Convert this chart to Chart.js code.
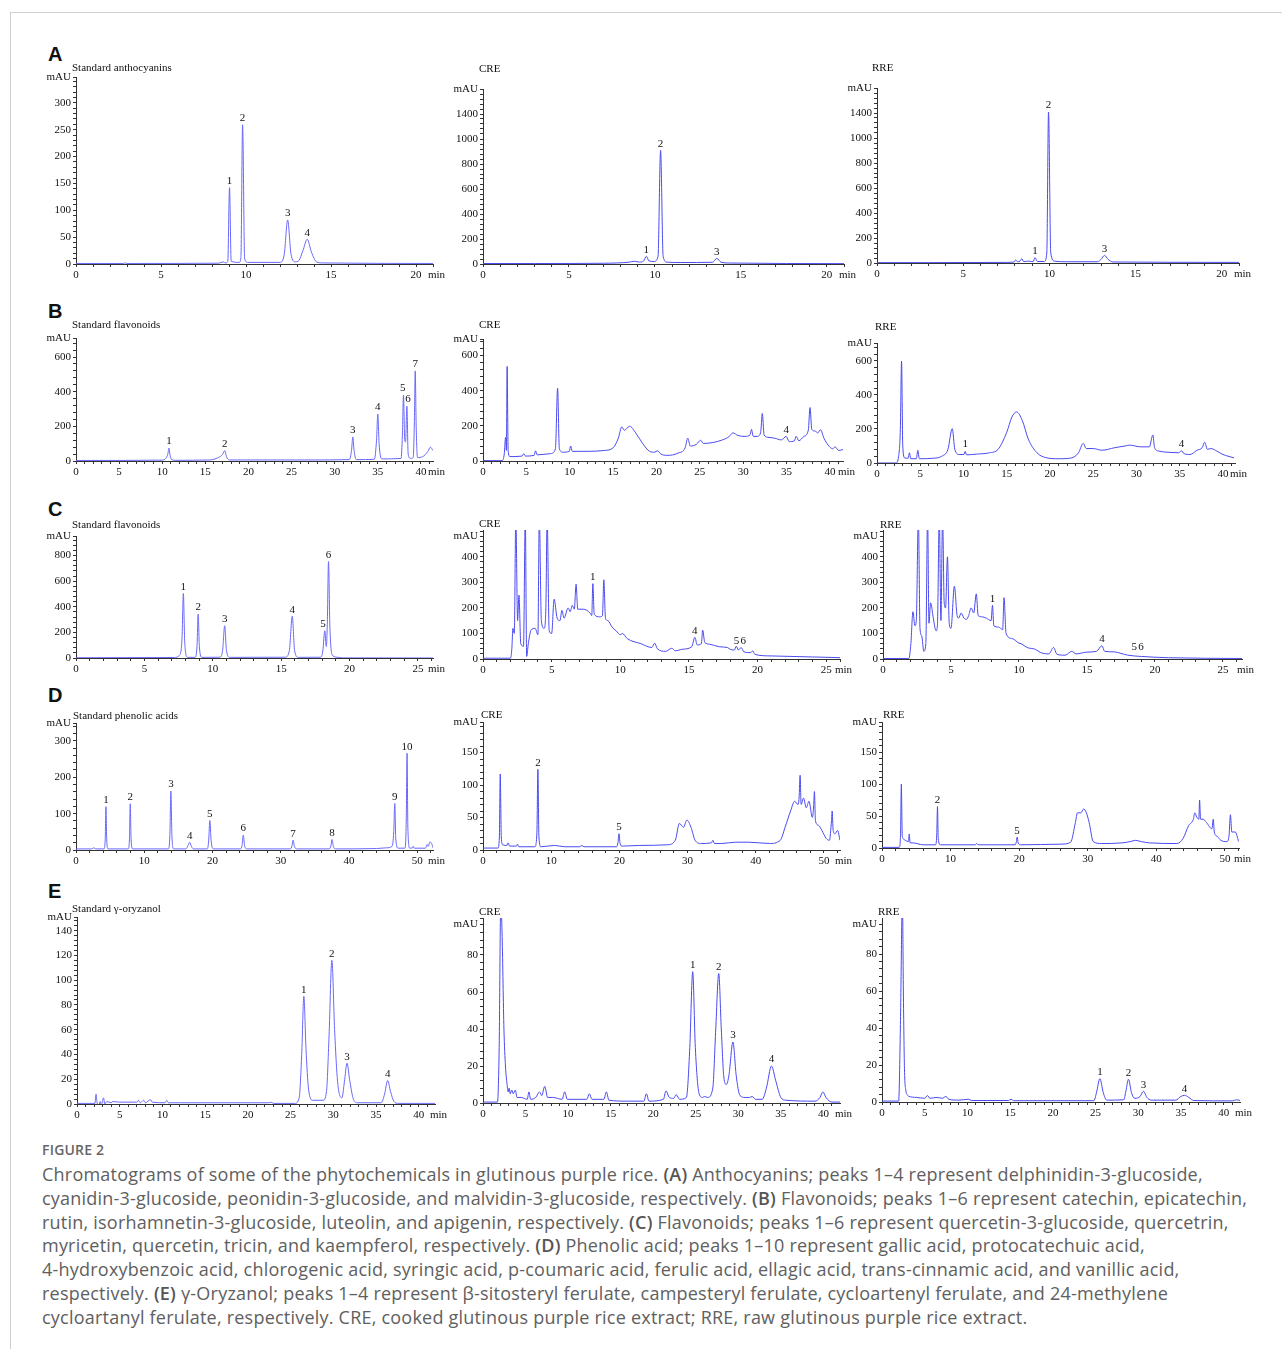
<!DOCTYPE html>
<html>
<head>
<meta charset="utf-8">
<title>Figure 2</title>
<script src="https://cdn.jsdelivr.net/npm/chart.js@4.4.1/dist/chart.umd.min.js"></script>
<style>
    body { margin: 0; background: #fff; }
    #page { position: relative; width: 1282px; height: 1349px; overflow: hidden; }
    .frame { position: absolute; left: 10px; top: 12px; width: 1280px; height: 1345px; border-left: 1px solid #cfcfcf; border-top: 1px solid #cfcfcf; }
    .panel { position: absolute; }
    .ttl { position: absolute; font: 11px/12px "Liberation Serif", serif; color: #111; white-space: nowrap; }
    .row-letter { position: absolute; left: 48px; font: bold 20px/20px "Liberation Sans", Arial, sans-serif; color: #111; }
    .fig-label { position: absolute; left: 42px; top: 1142px; font: 600 14px/16px "Open Sans", sans-serif; color: #666; letter-spacing: .2px; }
    .caption { position: absolute; left: 42px; top: 1163px; font: 18px/23.8px "Open Sans", sans-serif; letter-spacing: .22px; color: #606060; white-space: nowrap; }
    .caption b { font-weight: 600; color: #555; }
</style>
</head>
<body>
<div id="page">
    <div class="frame"></div>
    <div class="row-letter" style="top:44px">A</div>
    <div class="row-letter" style="top:301px">B</div>
    <div class="row-letter" style="top:499px">C</div>
    <div class="row-letter" style="top:685px">D</div>
    <div class="row-letter" style="top:881px">E</div>
    <div class="fig-label">FIGURE 2</div>
    <div class="caption">Chromatograms of some of the phytochemicals in glutinous purple rice. <b>(A)</b> Anthocyanins; peaks 1–4 represent delphinidin-3-glucoside,<br>cyanidin-3-glucoside, peonidin-3-glucoside, and malvidin-3-glucoside, respectively. <b>(B)</b> Flavonoids; peaks 1–6 represent catechin, epicatechin,<br>rutin, isorhamnetin-3-glucoside, luteolin, and apigenin, respectively. <b>(C)</b> Flavonoids; peaks 1–6 represent quercetin-3-glucoside, quercetrin,<br>myricetin, quercetin, tricin, and kaempferol, respectively. <b>(D)</b> Phenolic acid; peaks 1–10 represent gallic acid, protocatechuic acid,<br>4-hydroxybenzoic acid, chlorogenic acid, syringic acid, p-coumaric acid, ferulic acid, ellagic acid, trans-cinnamic acid, and vanillic acid,<br>respectively. <b>(E)</b> γ-Oryzanol; peaks 1–4 represent β-sitosteryl ferulate, campesteryl ferulate, cycloartenyl ferulate, and 24-methylene<br>cycloartanyl ferulate, respectively. CRE, cooked glutinous purple rice extract; RRE, raw glutinous purple rice extract.</div>
</div>
<script>
// retention time (min) / absorbance (mAU)
var aStdTrace = [[0,1],[2.8,1],[2.9,2],[3.0,1],[8.4,1.5],[8.65,4],[8.8,2],[8.93,5],[9.03,142],[9.13,5],[9.6,3],[9.7,12],[9.8,259],[9.92,10],[10.1,3],[12.0,3],[12.25,18],[12.45,82],[12.65,18],[12.9,4],[13.1,6],[13.35,25],[13.6,46],[13.85,22],[14.15,4],[14.5,2],[21,1]];
var aCreTrace = [[0,4],[3,4],[7,6],[8.5,15],[8.8,22],[9.1,15],[9.35,25],[9.5,62],[9.65,25],[9.95,20],[10.18,60],[10.33,910],[10.48,60],[10.7,15],[11.5,12],[13.35,14],[13.6,45],[13.85,14],[14.3,8],[21,3]];
var aRreTrace = [[0,3],[3,3],[7.5,5],[7.95,8],[8.05,25],[8.15,10],[8.3,15],[8.4,35],[8.5,12],[8.85,15],[9.05,10],[9.17,43],[9.3,12],[9.7,12],[9.85,80],[9.95,1208],[10.08,80],[10.3,15],[11,10],[12.8,10],[13.0,30],[13.2,61],[13.4,30],[13.7,8],[21,5]];

var bStdTrace = [[0,3],[10,5],[10.4,15],[10.65,40],[10.78,75],[10.9,35],[11.1,8],[11.5,4],[15.5,6],[16.5,20],[17.0,38],[17.25,60],[17.45,25],[17.8,6],[27,6],[31.7,8],[31.95,60],[32.1,139],[32.25,60],[32.5,8],[34.6,10],[34.85,120],[35.0,271],[35.15,100],[35.45,12],[37.7,15],[37.85,150],[37.98,381],[38.12,120],[38.22,110],[38.37,317],[38.52,40],[38.8,15],[39.1,20],[39.25,250],[39.34,520],[39.45,200],[39.6,20],[40.2,25],[40.8,55],[41.1,80],[41.4,60]];
var bCreTrace = [[0,2],[2.2,2],[2.45,40],[2.6,134],[2.7,60],[2.78,538],[2.9,60],[3.1,25],[4.5,28],[4.7,42],[4.9,28],[5.9,32],[6.05,58],[6.25,35],[7.8,42],[8.35,70],[8.6,414],[8.8,70],[9.2,50],[9.95,55],[10.1,85],[10.3,55],[12,55],[14,60],[15,75],[15.6,130],[16.0,194],[16.3,175],[16.9,198],[17.6,160],[18.4,100],[19.2,55],[19.8,50],[20.1,58],[20.5,40],[21.2,32],[22.5,45],[23.3,75],[23.6,130],[23.9,85],[24.6,95],[25.1,118],[25.4,100],[26.5,105],[27.6,120],[28.4,140],[28.8,160],[29.4,145],[30.2,140],[30.8,150],[30.95,180],[31.15,140],[31.6,140],[32.0,160],[32.2,270],[32.4,150],[32.8,135],[33.6,130],[34.4,120],[34.95,140],[35.3,110],[35.9,115],[36.1,140],[36.4,115],[37.0,140],[37.5,175],[37.7,304],[37.9,180],[38.3,170],[38.6,160],[38.9,178],[39.3,130],[39.8,90],[40.3,70],[40.6,80],[41.0,60],[41.5,65]];
var bRreTrace = [[0,0],[2.2,0],[2.5,40],[2.7,200],[2.84,598],[2.98,100],[3.2,30],[3.6,28],[3.75,60],[3.9,25],[4.55,25],[4.72,75],[4.9,25],[6.5,28],[7.5,40],[8.2,80],[8.7,202],[9.0,80],[9.5,50],[10.05,50],[10.2,68],[10.35,48],[11.5,52],[13,60],[14,80],[15,180],[15.6,270],[16.15,300],[16.8,250],[17.5,140],[18.5,60],[19.5,32],[21,25],[22.5,30],[23.3,60],[23.85,115],[24.2,85],[25,85],[26,75],[27.5,90],[28.7,100],[29.2,105],[30.5,95],[31.5,95],[31.9,165],[32.1,90],[32.6,70],[34,62],[34.9,60],[35.2,72],[35.5,55],[36.2,50],[37,75],[37.6,90],[37.9,122],[38.2,80],[38.6,85],[39.3,70],[40,50],[40.6,40],[41.3,30]];

var cStdTrace = [[0,2],[7.2,4],[7.55,20],[7.75,150],[7.85,504],[7.95,120],[8.15,5],[8.7,5],[8.85,100],[8.93,343],[9.02,90],[9.2,5],[10.5,6],[10.72,60],[10.87,252],[11.0,60],[11.25,5],[15.3,6],[15.6,60],[15.81,327],[15.98,60],[16.25,5],[17.9,6],[18.05,60],[18.19,213],[18.3,90],[18.38,300],[18.46,753],[18.56,250],[18.75,20],[19.2,5],[19.5,1],[26.1,0]];
var cCreTrace = [[0,3],[2.0,3],[2.1,40],[2.18,120],[2.28,100],[2.39,560],[2.52,150],[2.62,250],[2.75,60],[2.95,50],[3.08,560],[3.18,10],[3.3,60],[3.5,113],[3.8,120],[4.0,95],[4.1,560],[4.25,150],[4.45,120],[4.58,200],[4.67,560],[4.82,110],[5.0,100],[5.18,234],[5.4,160],[5.6,150],[5.75,190],[5.9,160],[6.2,200],[6.35,185],[6.5,210],[6.65,195],[6.78,293],[6.9,195],[7.3,195],[7.8,180],[7.92,170],[8.0,295],[8.1,175],[8.5,165],[8.7,170],[8.8,310],[8.92,160],[9.1,150],[9.4,125],[9.7,110],[10.0,95],[10.15,100],[10.5,80],[11.5,60],[12.3,45],[12.5,62],[12.7,40],[13.3,30],[13.75,42],[14.0,32],[14.5,38],[15.2,48],[15.43,85],[15.6,55],[15.9,60],[16.0,113],[16.15,65],[16.5,58],[17.2,48],[17.8,45],[18.0,38],[18.3,35],[18.45,50],[18.6,35],[18.8,45],[19.0,28],[19.5,25],[19.65,32],[19.8,18],[21,12],[22.5,10],[24,8],[25.5,6],[26,5]];
var cRreTrace = [[0,2],[1.9,2],[2.05,60],[2.2,185],[2.35,130],[2.45,150],[2.6,560],[2.72,120],[2.85,90],[3.0,30],[3.15,60],[3.28,560],[3.38,140],[3.5,220],[3.7,160],[3.9,110],[4.0,130],[4.14,560],[4.26,150],[4.38,560],[4.5,220],[4.6,200],[4.74,400],[4.87,140],[5.0,120],[5.25,285],[5.45,170],[5.56,160],[5.75,180],[5.95,160],[6.13,155],[6.3,170],[6.48,200],[6.67,180],[6.86,255],[7.0,170],[7.3,165],[7.6,160],[7.95,150],[8.05,210],[8.15,130],[8.5,125],[8.8,115],[8.9,240],[9.05,100],[9.5,80],[10.0,62],[10.15,60],[10.6,45],[11.2,38],[11.6,25],[12.2,20],[12.54,45],[12.8,18],[13.4,15],[13.88,30],[14.2,20],[15.0,27],[15.7,30],[16.1,52],[16.3,30],[17.0,28],[17.5,22],[18.0,15],[19.0,10],[21,5],[26.4,2]];

var dStdTrace = [[0,3],[2.3,3],[2.6,6],[2.9,3],[4.1,3],[4.28,30],[4.39,119],[4.5,30],[4.7,3],[7.65,3],[7.83,30],[7.95,127],[8.07,30],[8.3,3],[13.55,3],[13.75,40],[13.9,162],[14.05,40],[14.3,3],[16.1,3],[16.4,12],[16.65,21],[16.9,10],[17.2,3],[19.25,3],[19.45,30],[19.6,81],[19.8,25],[20.1,3],[24.1,3],[24.35,15],[24.5,41],[24.7,12],[25.0,3],[31.4,3],[31.65,12],[31.8,27],[32.0,10],[32.3,3],[37.1,3],[37.35,12],[37.5,29],[37.7,10],[38.0,3],[44,4],[45.5,6],[46.3,10],[46.55,50],[46.7,128],[46.85,30],[47.2,5],[48.2,5],[48.38,80],[48.5,266],[48.62,60],[48.9,5],[49.3,6],[49.4,10],[49.55,5],[51.2,5],[51.45,15],[51.6,10],[51.85,22],[52.1,18],[52.3,6]];
var dCreTrace = [[0,3],[2.2,3],[2.4,20],[2.53,117],[2.68,20],[2.9,8],[3.5,7],[3.68,11],[3.9,6],[4.9,6],[5.06,9],[5.25,5],[7.6,5],[7.9,25],[8.05,124],[8.2,20],[8.5,5],[10.5,7],[12,5],[14.2,5],[14.5,7],[14.8,5],[19.6,5],[19.8,12],[19.94,25],[20.1,10],[20.4,6],[23,7],[27,8],[28.2,15],[28.8,41],[29.4,35],[29.9,46],[30.5,35],[31.1,15],[32,10],[33.5,11],[33.7,15],[33.95,10],[35,10],[37,12],[39,12],[42,10],[43.6,15],[44.3,35],[45.1,60],[45.7,75],[46.2,70],[46.35,80],[46.5,115],[46.65,70],[47.0,80],[47.4,65],[47.8,75],[48.3,50],[48.5,70],[48.6,90],[48.75,45],[49.2,38],[49.7,30],[50.3,18],[50.8,15],[51.1,45],[51.2,60],[51.35,30],[51.6,25],[52.0,30],[52.35,15]];
var dRreTrace = [[0,1],[2.5,1],[2.7,20],[2.82,100],[2.95,20],[3.05,15],[3.4,12],[3.85,10],[3.97,22],[4.1,8],[4.5,8],[6,5],[7.8,5],[7.98,20],[8.09,65],[8.2,15],[8.5,5],[13.6,5],[13.8,7],[14.0,5],[19.4,5],[19.6,10],[19.7,17],[19.85,8],[20.2,5],[26,6],[27.5,9],[28.2,40],[28.5,55],[29.0,55],[29.4,61],[29.8,55],[30.2,40],[30.8,10],[32,7],[35,8],[36.2,10],[37.0,12],[37.8,10],[39,8],[43,7],[43.9,15],[44.7,35],[45.4,45],[45.6,55],[45.9,48],[46.2,45],[46.3,75],[46.45,45],[46.8,45],[47.3,40],[48.1,30],[48.3,45],[48.45,25],[48.9,18],[49.4,12],[50.3,10],[50.6,20],[50.8,52],[51.0,25],[51.5,25],[52,10]];

var eStdTrace = [[0,0.5],[2.1,0.5],[2.23,8],[2.35,1],[2.54,-2],[2.7,2],[2.85,-1],[3.0,3],[3.1,5],[3.25,0],[3.5,2],[4.0,1],[4.2,2],[5,1.5],[7.0,1.5],[7.2,3],[7.4,1],[7.8,3],[8.0,1],[8.6,3.5],[8.8,1.5],[10.3,1],[10.5,3],[10.7,1],[12,1],[22.5,1],[22.7,1.5],[23,0.5],[25.5,0.5],[26.0,5],[26.3,40],[26.55,87],[26.8,45],[27.1,12],[27.6,3],[28.8,3],[29.2,10],[29.5,55],[29.83,116],[30.15,60],[30.5,18],[31.0,5],[31.3,18],[31.6,33],[31.9,20],[32.3,5],[32.8,1],[35.6,1],[36.0,8],[36.36,19],[36.7,10],[37.1,2],[37.6,0.5],[41.9,0.5]];
var eCreTrace = [[0,0.5],[1.7,0.5],[1.9,30],[2.09,110],[2.25,90],[2.46,40],[2.64,20],[2.83,10],[2.95,6],[3.07,8],[3.2,5],[3.38,7],[3.56,5],[3.8,7],[4.0,3],[4.5,3],[5.2,2],[5.4,6],[5.6,2],[6.2,3],[6.64,6],[6.9,4],[7.25,9],[7.6,3],[8.2,3],[9.3,2],[9.6,6],[9.9,2],[12.2,2],[12.5,5],[12.8,2],[14.2,2],[14.5,6],[14.8,1.5],[17,1],[18.9,1],[19.2,5],[19.5,1],[21.2,2],[21.5,6.5],[21.9,3],[22.4,2.5],[22.7,4.5],[23.1,2],[23.9,3],[24.3,30],[24.64,71],[24.95,30],[25.4,5],[25.8,3],[26.0,3.5],[26.4,3],[27.0,8],[27.35,40],[27.7,70],[28.0,40],[28.3,14],[28.6,10],[28.9,15],[29.37,33],[29.75,15],[30.2,4],[30.8,3],[31.3,3],[31.64,3.5],[32.0,2],[32.8,2],[33.3,8],[33.9,20],[34.4,12],[35.0,3],[35.6,1.5],[39.0,1],[39.6,3],[39.94,6],[40.3,3],[41,0.5],[41.95,0.5]];
var eRreTrace = [[0,0.5],[1.95,0.5],[2.15,40],[2.39,110],[2.5,60],[2.63,18],[2.8,6],[2.94,4],[3.18,3],[4.0,2.5],[5.0,2],[5.33,3.5],[5.6,2],[6.43,2.5],[7.04,2],[7.5,3],[7.8,1.5],[9,1],[10.1,1.5],[10.5,0.8],[14.8,0.8],[15.1,1.5],[15.4,0.7],[24.8,0.7],[25.1,5],[25.5,12.6],[25.9,5],[26.3,1],[28.3,1.2],[28.55,6],[28.85,12.3],[29.2,5],[29.6,2],[30.2,3],[30.6,5.8],[31.0,2.5],[31.5,1],[34.4,1],[34.9,2.8],[35.4,3.6],[35.9,2.5],[36.5,0.8],[41,0.6],[41.5,1.2],[41.9,0.8]];

// peak numbers: [label, time, mAU at apex]
var aStdPeaks = [['1',9.03,142],['2',9.8,259],['3',12.45,82],['4',13.6,46]];
var aCrePeaks = [['1',9.5,62],['2',10.33,910],['3',13.6,45]];
var aRrePeaks = [['1',9.17,43],['2',9.95,1208],['3',13.2,61]];
var bStdPeaks = [['1',10.78,75],['2',17.25,60],['3',32.1,139],['4',35.0,271],['5',37.9,381],['6',38.5,317],['7',39.34,520]];
var bCrePeaks = [['4',34.95,140]];
var bRrePeaks = [['1',10.2,70],['4',35.2,72]];
var cStdPeaks = [['1',7.85,504],['2',8.93,343],['3',10.87,252],['4',15.81,327],['5',18.05,213],['6',18.46,753]];
var cCrePeaks = [['1',8.0,295],['4',15.43,85],['5',18.47,45],['6',18.96,45]];
var cRrePeaks = [['1',8.05,210],['4',16.1,52],['5',18.48,20],['6',18.98,20]];
var dStdPeaks = [['1',4.39,119],['2',7.95,127],['3',13.9,162],['4',16.65,21],['5',19.6,81],['6',24.5,41],['7',31.8,27],['8',37.5,29],['9',46.7,128],['10',48.5,266]];
var dCrePeaks = [['2',8.05,124],['5',19.94,25]];
var dRrePeaks = [['2',8.09,65],['5',19.7,17]];
var eStdPeaks = [['1',26.55,87],['2',29.83,116],['3',31.6,33],['4',36.36,19]];
var eCrePeaks = [['1',24.64,71],['2',27.7,70],['3',29.37,33],['4',33.9,20]];
var eRrePeaks = [['1',25.5,12.6],['2',28.85,12.3],['3',30.6,5.8],['4',35.4,3.6]];

// axis tick labels
var xLabelsA = ['0', '5', '10', '15', '20'];
var xLabelsB = ['0', '5', '10', '15', '20', '25', '30', '35', '40'];
var xLabelsC = ['0', '5', '10', '15', '20', '25'];
var xLabelsD = ['0', '10', '20', '30', '40', '50'];
var xLabelsE = ['0', '5', '10', '15', '20', '25', '30', '35', '40'];
var yLabelsAStd = ['0', '50', '100', '150', '200', '250', '300'];
var yLabelsAExt = ['0', '200', '400', '600', '800', '1000', '1400'];
var yLabelsB = ['0', '200', '400', '600'];
var yLabelsCStd = ['0', '200', '400', '600', '800'];
var yLabelsCExt = ['0', '100', '200', '300', '400'];
var yLabelsDStd = ['0', '100', '200', '300'];
var yLabelsDExt = ['0', '50', '100', '150'];
var yLabelsEStd = ['0', '20', '40', '60', '80', '100', '120', '140'];
var yLabelsEExt = ['0', '20', '40', '60', '80'];

(function () {
    var LINE_STD = 'rgb(104,104,250)', LINE_EXT = 'rgb(74,74,240)';
    var PAD_L = 40, PAD_T = 12, PAD_R = 22, PAD_B = 22;
    var page = document.getElementById('page');

    // box = [left, right, top, bottom] of the plot frame in page pixels
    var panels = [
        {title: 'Standard anthocyanins', tx: 72, ty: 67, trace: aStdTrace, peaks: aStdPeaks, color: LINE_STD, box: [76, 433, 77, 264],
            xMax: 21, xStep: 5, xMinor: 1, xLabels: xLabelsA, yMax: 348, mau: 348, yStep: 50, yMinor: 10, yLabels: yLabelsAStd},
        {title: 'CRE', tx: 479, ty: 68, trace: aCreTrace, peaks: aCrePeaks, color: LINE_EXT, box: [483, 844, 89, 264],
            xMax: 21, xStep: 5, xMinor: 1, xLabels: xLabelsA, yMax: 1400, mau: 1400, yStep: 200, yMinor: 40, yLabels: yLabelsAExt},
        {title: 'RRE', tx: 872, ty: 67, trace: aRreTrace, peaks: aRrePeaks, color: LINE_EXT, box: [877, 1239, 88, 263],
            xMax: 21, xStep: 5, xMinor: 1, xLabels: xLabelsA, yMax: 1400, mau: 1400, yStep: 200, yMinor: 40, yLabels: yLabelsAExt},

        {title: 'Standard flavonoids', tx: 72, ty: 324, trace: bStdTrace, peaks: bStdPeaks, color: LINE_STD, box: [76, 433, 338, 461],
            xMax: 41.4, xStep: 5, xMinor: 1, xLabels: xLabelsB, yMax: 710, mau: 710, yStep: 200, yMinor: 40, yLabels: yLabelsB},
        {title: 'CRE', tx: 479, ty: 324, trace: bCreTrace, peaks: bCrePeaks, color: LINE_EXT, box: [483, 843, 339, 461],
            xMax: 41.5, xStep: 5, xMinor: 1, xLabels: xLabelsB, yMax: 694, mau: 694, yStep: 200, yMinor: 40, yLabels: yLabelsB},
        {title: 'RRE', tx: 875, ty: 326, trace: bRreTrace, peaks: bRrePeaks, color: LINE_EXT, box: [877, 1235, 343, 463],
            xMax: 41.4, xStep: 5, xMinor: 1, xLabels: xLabelsB, yMax: 705, mau: 705, yStep: 200, yMinor: 40, yLabels: yLabelsB},

        {title: 'Standard flavonoids', tx: 72, ty: 524, trace: cStdTrace, peaks: cStdPeaks, color: LINE_STD, box: [76, 433, 536, 658],
            xMax: 26.1, xStep: 5, xMinor: 1, xLabels: xLabelsC, yMax: 953, mau: 953, yStep: 200, yMinor: 40, yLabels: yLabelsCStd},
        {title: 'CRE', tx: 479, ty: 523, trace: cCreTrace, peaks: cCrePeaks, color: LINE_EXT, box: [483, 840, 530, 659],
            xMax: 26, xStep: 5, xMinor: 1, xLabels: xLabelsC, yMax: 505, mau: 480, yStep: 100, yMinor: 20, yLabels: yLabelsCExt},
        {title: 'RRE', tx: 880, ty: 524, trace: cRreTrace, peaks: cRrePeaks, color: LINE_EXT, box: [883, 1242, 530, 659],
            xMax: 26.4, xStep: 5, xMinor: 1, xLabels: xLabelsC, yMax: 505, mau: 480, yStep: 100, yMinor: 20, yLabels: yLabelsCExt},

        {title: 'Standard phenolic acids', tx: 73, ty: 715, trace: dStdTrace, peaks: dStdPeaks, color: LINE_STD, box: [76, 433, 723, 850],
            xMax: 52.3, xStep: 10, xMinor: 2, xLabels: xLabelsD, yMax: 349, mau: 349, yStep: 100, yMinor: 20, yLabels: yLabelsDStd},
        {title: 'CRE', tx: 481, ty: 714, trace: dCreTrace, peaks: dCrePeaks, color: LINE_EXT, box: [483, 840, 722, 850],
            xMax: 52.35, xStep: 10, xMinor: 2, xLabels: xLabelsD, yMax: 197, mau: 197, yStep: 50, yMinor: 10, yLabels: yLabelsDExt},
        {title: 'RRE', tx: 883, ty: 714, trace: dRreTrace, peaks: dRrePeaks, color: LINE_EXT, box: [882, 1239, 722, 848],
            xMax: 52.05, xStep: 10, xMinor: 2, xLabels: xLabelsD, yMax: 197, mau: 197, yStep: 50, yMinor: 10, yLabels: yLabelsDExt},

        {title: 'Standard γ-oryzanol', tx: 72, ty: 908, trace: eStdTrace, peaks: eStdPeaks, color: LINE_STD, box: [77, 435, 917, 1104],
            xMax: 41.9, xStep: 5, xMinor: 1, xLabels: xLabelsE, yMax: 151, mau: 151, yStep: 20, yMinor: 4, yLabels: yLabelsEStd},
        {title: 'CRE', tx: 479, ty: 911, trace: eCreTrace, peaks: eCrePeaks, color: LINE_EXT, box: [483, 840, 918, 1103],
            xMax: 41.95, xStep: 5, xMinor: 1, xLabels: xLabelsE, yMax: 100, mau: 96.5, yStep: 20, yMinor: 4, yLabels: yLabelsEExt},
        {title: 'RRE', tx: 878, ty: 911, trace: eRreTrace, peaks: eRrePeaks, color: LINE_EXT, box: [882, 1240, 918, 1102],
            xMax: 41.9, xStep: 5, xMinor: 1, xLabels: xLabelsE, yMax: 99.5, mau: 96, yStep: 20, yMinor: 4, yLabels: yLabelsEExt}
    ];

    // peak numbers and the "min" unit
    var peakLabels = {
        id: 'peakLabels',
        afterDatasetsDraw: function (chart, args, opts) {
            var ctx = chart.ctx, xs = chart.scales.x, ys = chart.scales.y, area = chart.chartArea;
            ctx.save();
            ctx.font = '11px "Liberation Serif", serif';
            ctx.fillStyle = '#111';
            ctx.textAlign = 'center';
            ctx.textBaseline = 'bottom';
            opts.peaks.forEach(function (p) {
                ctx.fillText(p[0], xs.getPixelForValue(p[1]), ys.getPixelForValue(p[2]) - 1);
            });
            ctx.textAlign = 'left';
            ctx.textBaseline = 'middle';
            ctx.fillText('min', area.right - 5, area.bottom + 11);
            ctx.restore();
        }
    };

    function isStep(v, step) {
        var k = v / step;
        return Math.abs(k - Math.round(k)) < 1e-6;
    }

    function initPanel(p) {
        var left = Math.round(p.box[0]), right = Math.round(p.box[1]);
        var top = Math.round(p.box[2]), bottom = Math.round(p.box[3]);
        var w = right - left + PAD_L + PAD_R, h = bottom - top + PAD_T + PAD_B;

        var holder = document.createElement('div');
        holder.className = 'panel';
        holder.style.left = (left - PAD_L) + 'px';
        holder.style.top = (top - PAD_T) + 'px';
        holder.style.width = w + 'px';
        holder.style.height = h + 'px';
        var canvas = document.createElement('canvas');
        canvas.width = w;
        canvas.height = h;
        holder.appendChild(canvas);
        page.appendChild(holder);

        var ttl = document.createElement('div');
        ttl.className = 'ttl';
        ttl.textContent = p.title;
        ttl.style.left = p.tx + 'px';
        ttl.style.top = (p.ty - 6) + 'px';
        page.appendChild(ttl);

        var tickFont = {family: '"Liberation Serif", serif', size: 11};
        var axisGrid = {drawOnChartArea: false, drawTicks: true, tickLength: 3, color: '#333', lineWidth: 1};

        return new Chart(canvas.getContext('2d'), {
            type: 'line',
            data: {
                datasets: [{
                    data: p.trace.map(function (d) { return {x: d[0], y: d[1]}; }),
                    borderColor: p.color,
                    borderWidth: 1,
                    pointRadius: 0,
                    fill: false,
                    cubicInterpolationMode: 'monotone'
                }]
            },
            plugins: [peakLabels],
            options: {
                responsive: false,
                animation: false,
                devicePixelRatio: 1,
                layout: {padding: {left: 0, top: PAD_T, right: PAD_R, bottom: 0}},
                plugins: {
                    legend: {display: false},
                    tooltip: {enabled: false},
                    peakLabels: {peaks: p.peaks}
                },
                scales: {
                    x: {
                        type: 'linear',
                        min: 0,
                        max: p.xMax,
                        grid: axisGrid,
                        border: {display: true, color: '#333', width: 1},
                        afterFit: function (s) { s.height = PAD_B; },
                        afterBuildTicks: function (s) {
                            var ticks = [];
                            for (var i = 0; i * p.xMinor <= p.xMax + 1e-9; i++) {
                                ticks.push({value: i * p.xMinor});
                            }
                            s.ticks = ticks;
                        },
                        ticks: {
                            autoSkip: false,
                            maxRotation: 0,
                            padding: 2,
                            color: '#111',
                            font: tickFont,
                            callback: function (v) {
                                if (!isStep(v, p.xStep)) return '';
                                return p.xLabels[Math.round(v / p.xStep)] || '';
                            }
                        }
                    },
                    y: {
                        type: 'linear',
                        min: 0,
                        max: p.yMax,
                        grid: axisGrid,
                        border: {display: true, color: '#333', width: 1},
                        afterFit: function (s) { s.width = PAD_L; },
                        afterBuildTicks: function (s) {
                            var ticks = [];
                            for (var i = 0; i * p.yMinor <= p.yMax + 1e-9; i++) {
                                var v = i * p.yMinor;
                                if (Math.abs(v - p.mau) > p.yMinor * 0.3) ticks.push({value: v});
                            }
                            ticks.push({value: p.mau});
                            ticks.sort(function (a, b) { return a.value - b.value; });
                            s.ticks = ticks;
                        },
                        ticks: {
                            autoSkip: false,
                            padding: 2,
                            color: '#111',
                            font: tickFont,
                            callback: function (v) {
                                if (v === p.mau) return 'mAU';
                                if (!isStep(v, p.yStep)) return '';
                                return p.yLabels[Math.round(v / p.yStep)] || '';
                            }
                        }
                    }
                }
            }
        });
    }

    panels.forEach(initPanel);
})();
</script>
</body>
</html>
